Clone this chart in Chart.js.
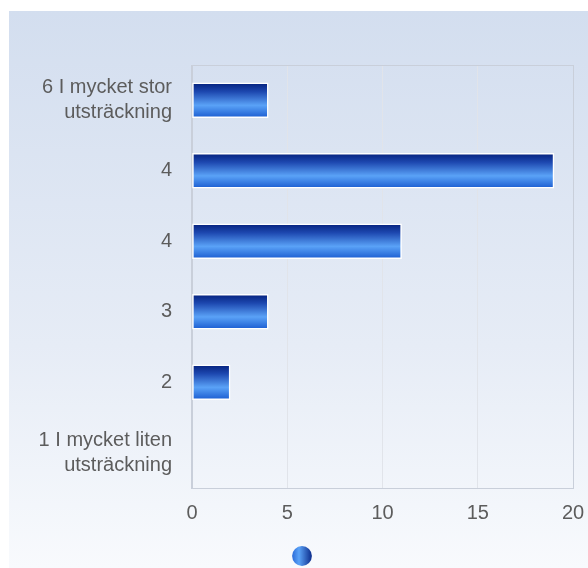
<!DOCTYPE html>
<html>
<head>
<meta charset="utf-8">
<script src="https://cdn.jsdelivr.net/npm/chart.js@4/dist/chart.umd.min.js"></script>
<style>
	html, body { margin: 0; padding: 0; background: #fff; }
	#wrap { width: 588px; height: 568px; }
</style>
</head>
<body>
<div id="wrap"><canvas id="chart" width="588" height="568"></canvas></div>
<script>
// data
var categories = [
	['6 I mycket stor', 'utsträckning'],
	'4',
	'4',
	'3',
	'2',
	['1 I mycket liten', 'utsträckning']
];
var values = [4, 19, 11, 4, 2, 0];
var xTicks = [0, 5, 10, 15, 20];

var fontFamily = '"Liberation Sans", Arial, sans-serif';
var labelColor = '#5c5c5c';

function barGradient(context) {
	var chart = context.chart;
	var y = chart.scales.y;
	if (!y || context.dataIndex === undefined) return '#2f6fe0';
	var c = y.getPixelForValue(context.dataIndex);
	var g = chart.ctx.createLinearGradient(0, c - 17, 0, c + 17);
	g.addColorStop(0, '#06237f');
	g.addColorStop(0.25, '#1d48b0');
	g.addColorStop(0.65, '#5aa2f7');
	g.addColorStop(1, '#1d5fd2');
	return g;
}

var background = {
	id: 'background',
	afterLayout: function(chart) {
		// nudge the legend dot to where it sits in the picture
		var l = chart.legend;
		l.left += 19; l.right += 19;
		l.top += 5; l.bottom += 5;
	},
	beforeDraw: function(chart) {
		var ctx = chart.ctx;
		var g = ctx.createLinearGradient(0, 11, 0, 568);
		g.addColorStop(0, '#d3deef');
		g.addColorStop(0.6, '#e6ecf6');
		g.addColorStop(1, '#f8fafd');
		ctx.save();
		ctx.fillStyle = '#fff';
		ctx.fillRect(0, 0, chart.width, chart.height);
		ctx.fillStyle = g;
		ctx.fillRect(9, 11, chart.width - 9, chart.height - 11);
		ctx.restore();
	},
	afterDatasetsDraw: function(chart) {
		// plot area frame
		var a = chart.chartArea, ctx = chart.ctx;
		ctx.save();
		ctx.strokeStyle = '#c9cfda';
		ctx.lineWidth = 1;
		ctx.strokeRect(a.left - 0.5, a.top + 0.5, a.right - a.left + 1, a.bottom - a.top);
		ctx.restore();
	}
};

var ctx = document.getElementById('chart');

new Chart(ctx, {
	type: 'bar',
	data: {
		labels: categories,
		datasets: [{
			label: '',
			data: values,
			backgroundColor: barGradient,
			borderColor: '#ffffff',
			borderWidth: 1.5,
			borderSkipped: false,
			barThickness: 35
		}]
	},
	plugins: [background],
	options: {
		indexAxis: 'y',
		responsive: false,
		animation: false,
		layout: { padding: { top: 65, right: 15, left: 0, bottom: 0 } },
		scales: {
			x: {
				min: 0,
				max: 20,
				afterBuildTicks: function(scale) {
					scale.ticks = xTicks.map(function(v) { return { value: v }; });
				},
				afterFit: function(scale) { scale.paddingRight = 0; },
				grid: { color: '#e1e4ea', drawTicks: false },
				border: { display: false },
				ticks: {
					color: labelColor,
					padding: 13,
					font: { family: fontFamily, size: 20 }
				}
			},
			y: {
				afterFit: function(scale) { scale.width = 192; },
				grid: { display: false },
				border: { color: '#c9cfda' },
				ticks: {
					color: labelColor,
					padding: 12,
					font: { family: fontFamily, size: 20, lineHeight: 1.25 }
				}
			}
		},
		plugins: {
			legend: {
				position: 'bottom',
				labels: {
					usePointStyle: true,
					boxWidth: 14,
					boxHeight: 14,
					padding: 6,
					font: { family: fontFamily, size: 14 },
					generateLabels: function(chart) {
						var g = chart.ctx.createLinearGradient(292, 0, 312, 0);
						g.addColorStop(0, '#2a6ad8');
						g.addColorStop(0.35, '#5aa2f7');
						g.addColorStop(1, '#0a2a8a');
						return [{
							text: '',
							fillStyle: g,
							strokeStyle: g,
							lineWidth: 0,
							pointStyle: 'circle',
							datasetIndex: 0
						}];
					}
				}
			},
			tooltip: { enabled: false }
		}
	}
});
</script>
</body>
</html>
